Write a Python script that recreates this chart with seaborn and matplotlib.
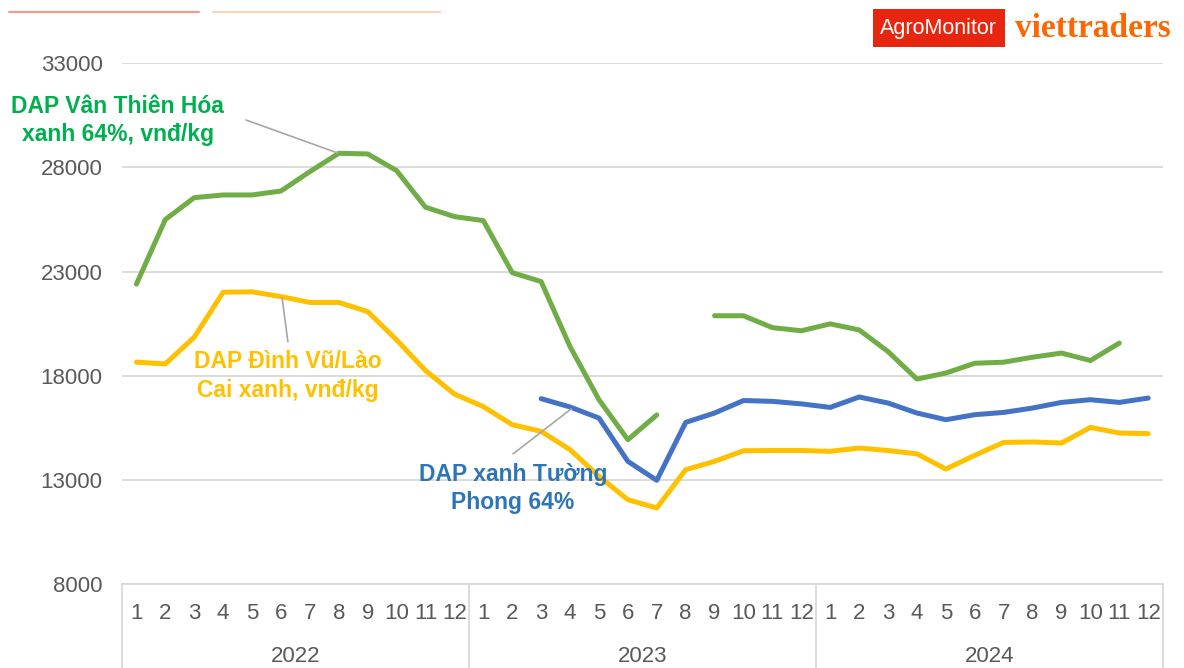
import pandas as pd
import numpy as np
import matplotlib
matplotlib.use('Agg')
import matplotlib.pyplot as plt
import matplotlib.transforms as mtransforms
from matplotlib.patches import Rectangle
import seaborn as sns

# data: monthly price, vnd/kg (Jan 2022 - Dec 2024)
years = ['2022', '2023', '2024']
months = [str(m) for m in range(1, 13)]

van_thien_hoa = [22400, 25500, 26550, 26680, 26680, 26870, 27800, 28680, 28650, 27850, 26090, 25640,
                 25450, 22950, 22520, 19400, 16850, 14930, 16120, np.nan, 20880, 20880, 20310, 20160,
                 20490, 20200, 19160, 17840, 18130, 18600, 18650, 18890, 19090, 18730, 19570, np.nan]
dinh_vu = [18650, 18570, 19850, 22010, 22030, 21800, 21520, 21520, 21080, 19720, 18250, 17120,
           16520, 15650, 15330, 14450, 13170, 12050, 11650, 13490, 13890, 14400, 14410, 14410,
           14370, 14530, 14410, 14250, 13520, 14180, 14800, 14820, 14770, 15520, 15250, 15220]
tuong_phong = [np.nan] * 14 + [16900, 16500, 15970, 13890, 12980, 15760, 16210, 16810, 16770, 16650,
                               16480, 16980, 16690, 16210, 15890, 16130, 16240, 16450, 16720, 16850, 16720, 16930]

series_names = ['DAP Vân Thiên Hóa xanh 64%', 'DAP Đình Vũ/Lào Cai xanh', 'DAP xanh Tường Phong 64%']
series_colors = ['#70AD47', '#FFC000', '#4472C4']


def to_long(values, name):
    df = pd.DataFrame({'idx': np.arange(len(values)), 'price': values})
    # separate contiguous runs so gaps stay gaps
    df['segment'] = df['price'].isna().cumsum()
    df = df.dropna()
    df['series'] = name
    df['segment'] = name + '_' + df['segment'].astype(str)
    return df


plot_df = pd.concat([to_long(van_thien_hoa, series_names[0]),
                     to_long(dinh_vu, series_names[1]),
                     to_long(tuong_phong, series_names[2])])

sns.set_theme(style='white')
plt.rcParams['font.family'] = ['Liberation Sans', 'DejaVu Sans']

fig = plt.figure(figsize=(11.84, 6.68), dpi=100)
ax = fig.add_axes([0.103, 0.1257, 0.879, 0.7795])

sns.lineplot(data=plot_df, x='idx', y='price', hue='series', units='segment',
             estimator=None, hue_order=series_names, palette=series_colors,
             linewidth=3.6, legend=False, ax=ax, zorder=3)

ax.set_xlim(-0.5, 35.5)
ax.set_ylim(8000, 33000)
ax.set_yticks(np.arange(8000, 33001, 5000))
ax.yaxis.grid(True, color='#D9D9D9', linewidth=1.3)
ax.set_axisbelow(True)
for s in ['left', 'right', 'top']:
    ax.spines[s].set_visible(False)
ax.spines['bottom'].set_color('#D9D9D9')
ax.spines['bottom'].set_linewidth(1.3)

ax.set_xticks(np.arange(36))
ax.set_xticklabels(months * 3)
ax.tick_params(axis='x', length=0, pad=14, labelsize=16, labelcolor='#595959')
ax.tick_params(axis='y', length=0, pad=14, labelsize=16, labelcolor='#595959')
ax.set_xlabel('')
ax.set_ylabel('')

# year group separators and labels
trans = mtransforms.blended_transform_factory(ax.transData, ax.transAxes)
for xb in [-0.5, 11.5, 23.5, 35.5]:
    ax.plot([xb, xb], [0, -0.165], transform=trans, color='#D9D9D9', lw=1.3, clip_on=False)
for i, yr in enumerate(years):
    ax.text(i * 12 + 5.5, -0.139, yr, transform=trans, ha='center', va='center',
            fontsize=16, color='#595959')

# series labels with leader lines
lead = dict(arrowstyle='-', color='#A6A6A6', lw=1.2, shrinkA=0, shrinkB=0)
ax.annotate('', xy=(6.97, 28690), xytext=(3.79, 30280), arrowprops=lead)
ax.annotate('', xy=(5.04, 21740), xytext=(5.24, 19630), arrowprops=lead)
ax.annotate('', xy=(15.04, 16410), xytext=(13.03, 14250), arrowprops=lead)

label_kw = dict(ha='center', va='center', fontsize=16.5, fontweight='bold', linespacing=1.3)
ax.text(-0.64, 30250, 'DAP Vân Thiên Hóa\nxanh 64%, vnđ/kg', color='#00B050', **label_kw)
ax.text(5.24, 17980, 'DAP Đình Vũ/Lào\nCai xanh, vnđ/kg', color='#FFC000', **label_kw)
ax.text(13.03, 12600, 'DAP xanh Tường\nPhong 64%', color='#2E75B6', **label_kw)

# header decorations and logo
fig.add_artist(plt.Line2D([0.008, 0.168], [0.982, 0.982], color='#F08070', lw=1.5, alpha=0.8))
fig.add_artist(plt.Line2D([0.180, 0.372], [0.982, 0.982], color='#F9C9A8', lw=1.5, alpha=0.8))
fig.add_artist(Rectangle((0.737, 0.930), 0.112, 0.056, facecolor='#E8260F', edgecolor='none'))
fig.text(0.793, 0.957, 'AgroMonitor', ha='center', va='center', fontsize=15.5,
         color='white', family=['Liberation Sans', 'DejaVu Sans'])
fig.text(0.857, 0.958, 'viettraders', ha='left', va='center', fontsize=24,
         color='#FF6600', fontweight='bold', family=['Liberation Serif', 'DejaVu Serif'])

fig.savefig('out.png', dpi=100)
